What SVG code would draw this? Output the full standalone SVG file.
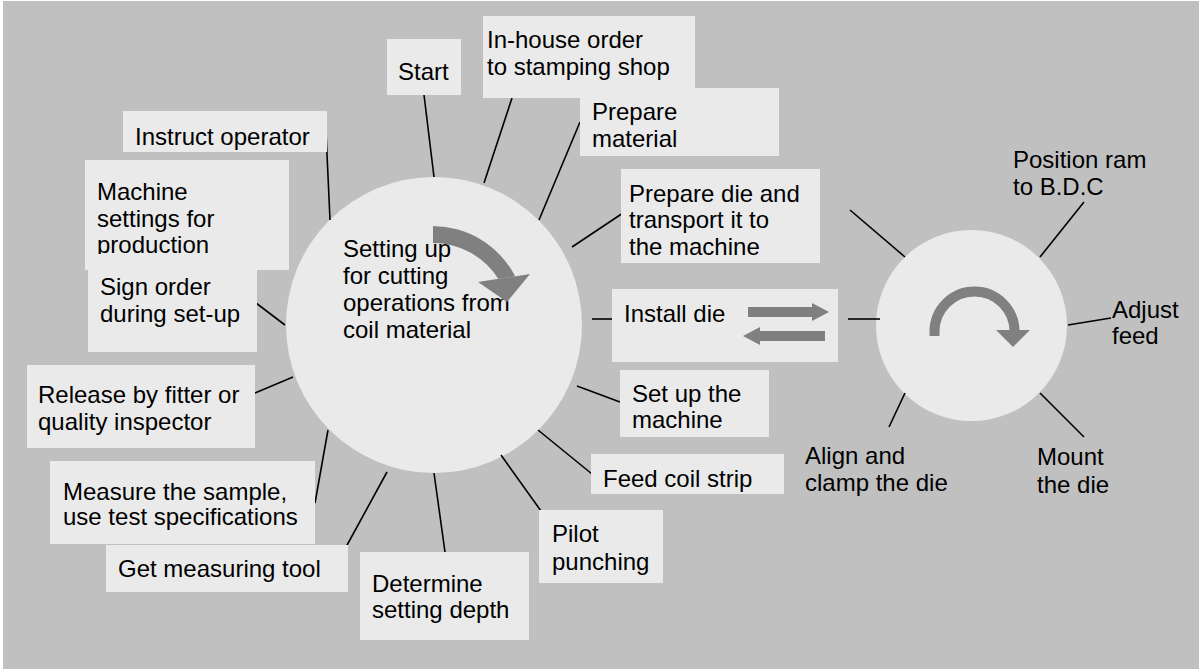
<svg xmlns="http://www.w3.org/2000/svg" width="1203" height="671" viewBox="0 0 1203 671">
<style>
.bg{fill:#c0c0c0}
.box{fill:#eaeaea}
.hub{fill:#eaeaea}
.t{font-family:"Liberation Sans",Arial,sans-serif;font-size:24px;fill:#000}
.ln{stroke:#000;stroke-width:1.6;fill:none}
.ar{fill:#808080}
</style>
<defs>
<clipPath id="clipProd"><rect x="85" y="160" width="204" height="94"/></clipPath>
</defs>
<rect x="0" y="0" width="1203" height="671" fill="#ffffff"/>
<rect class="bg" x="3" y="1" width="1196" height="668"/>

<g id="hub-main">
<circle class="hub" cx="434" cy="325" r="148"/>
<text class="t" x="343" y="257">Setting up</text>
<text class="t" x="343" y="284">for cutting</text>
<text class="t" x="343" y="311">operations from</text>
<text class="t" x="343" y="338">coil material</text>
<path class="ar" d="M433,226 A93,93 0 0 1 515.2,276.3 L498.3,278.9 A77,77 0 0 0 433,243 Z"/>
<polygon class="ar" points="478,282 530,274 507,302"/>
</g>

<g id="hub-die">
<circle class="hub" cx="971.5" cy="325.5" r="95.5"/>
<path d="M934.5,336 L934.5,331.5 A40,40 0 0 1 1014.5,331.5" fill="none" stroke="#808080" stroke-width="10"/>
<polygon class="ar" points="996,330 1030,330 1013,347"/>
</g>

<g id="connectors">
<line class="ln" x1="424" y1="95" x2="434" y2="177"/>
<line class="ln" x1="512" y1="98" x2="484" y2="183"/>
<line class="ln" x1="580" y1="122" x2="539" y2="220"/>
<line class="ln" x1="623" y1="213" x2="572" y2="247"/>
<line class="ln" x1="592" y1="319" x2="612" y2="319"/>
<line class="ln" x1="620" y1="402" x2="577" y2="386"/>
<line class="ln" x1="592" y1="474" x2="538" y2="430"/>
<line class="ln" x1="541" y1="511" x2="501" y2="455"/>
<line class="ln" x1="445" y1="552" x2="434" y2="473"/>
<line class="ln" x1="346" y1="547" x2="387" y2="472"/>
<line class="ln" x1="315" y1="503" x2="328" y2="430"/>
<line class="ln" x1="255" y1="393" x2="293" y2="377"/>
<line class="ln" x1="256" y1="303" x2="285" y2="325"/>
<line class="ln" x1="326" y1="132" x2="330" y2="220"/>
<line class="ln" x1="848" y1="319" x2="880" y2="319"/>
<line class="ln" x1="850" y1="210" x2="905" y2="257"/>
<line class="ln" x1="1084" y1="202" x2="1040" y2="257"/>
<line class="ln" x1="1111" y1="318" x2="1068" y2="325"/>
<line class="ln" x1="1084" y1="437" x2="1040" y2="393"/>
<line class="ln" x1="889" y1="427" x2="905" y2="393"/>
</g>

<g id="n-start">
<rect class="box" x="387" y="39" width="74" height="56"/>
<text class="t" x="398" y="80">Start</text>
</g>
<g id="n-inhouse">
<rect class="box" x="483" y="16" width="212" height="82"/>
<text class="t" x="487" y="48">In-house order</text>
<text class="t" x="487" y="75">to stamping shop</text>
</g>
<g id="n-material">
<rect class="box" x="580" y="88" width="199" height="68"/>
<text class="t" x="592" y="120">Prepare</text>
<text class="t" x="592" y="147">material</text>
</g>
<g id="n-preparedie">
<rect class="box" x="621" y="169" width="199" height="94"/>
<text class="t" x="629" y="202">Prepare die and</text>
<text class="t" x="629" y="228">transport it to</text>
<text class="t" x="629" y="255">the machine</text>
</g>
<g id="n-install">
<rect class="box" x="612" y="289" width="226" height="73"/>
<text class="t" x="624" y="322">Install die</text>
<rect class="ar" x="748" y="307" width="65" height="10"/>
<polygon class="ar" points="812,303 829,312 812,321"/>
<rect class="ar" x="759" y="331" width="66" height="10"/>
<polygon class="ar" points="760,327 743,336 760,345"/>
</g>
<g id="n-setup">
<rect class="box" x="620" y="370" width="149" height="67"/>
<text class="t" x="632" y="402">Set up the</text>
<text class="t" x="632" y="428">machine</text>
</g>
<g id="n-feed">
<rect class="box" x="591" y="454" width="193" height="40"/>
<text class="t" x="603" y="487">Feed coil strip</text>
</g>
<g id="n-pilot">
<rect class="box" x="539" y="510" width="124" height="73"/>
<text class="t" x="552" y="542">Pilot</text>
<text class="t" x="552" y="570">punching</text>
</g>
<g id="n-depth">
<rect class="box" x="360" y="552" width="169" height="88"/>
<text class="t" x="372" y="592">Determine</text>
<text class="t" x="372" y="618">setting depth</text>
</g>
<g id="n-tool">
<rect class="box" x="106" y="545" width="242" height="47"/>
<text class="t" x="118" y="577">Get measuring tool</text>
</g>
<g id="n-measure">
<rect class="box" x="50" y="461" width="265" height="83"/>
<text class="t" x="63" y="500">Measure the sample,</text>
<text class="t" x="63" y="525">use test specifications</text>
</g>
<g id="n-release">
<rect class="box" x="27" y="365" width="228" height="83"/>
<text class="t" x="38" y="403">Release by fitter or</text>
<text class="t" x="38" y="430">quality inspector</text>
</g>
<g id="n-sign">
<rect class="box" x="88" y="270" width="169" height="82"/>
<text class="t" x="100" y="295">Sign order</text>
<text class="t" x="100" y="322">during set-up</text>
</g>
<g id="n-settings">
<rect class="box" x="85" y="160" width="204" height="110"/>
<text class="t" x="97" y="200">Machine</text>
<text class="t" x="97" y="227">settings for</text>
<text class="t" x="97" y="253" clip-path="url(#clipProd)">production</text>
</g>
<g id="n-instruct">
<rect class="box" x="123" y="111" width="204" height="41"/>
<text class="t" x="135" y="145">Instruct operator</text>
</g>

<g id="n-ram">
<text class="t" x="1013" y="168">Position ram</text>
<text class="t" x="1013" y="195">to B.D.C</text>
</g>
<g id="n-adjust">
<text class="t" x="1112" y="318">Adjust</text>
<text class="t" x="1112" y="344">feed</text>
</g>
<g id="n-mount">
<text class="t" x="1037" y="465">Mount</text>
<text class="t" x="1037" y="493">the die</text>
</g>
<g id="n-align">
<text class="t" x="805" y="464">Align and</text>
<text class="t" x="805" y="491">clamp the die</text>
</g>
</svg>
